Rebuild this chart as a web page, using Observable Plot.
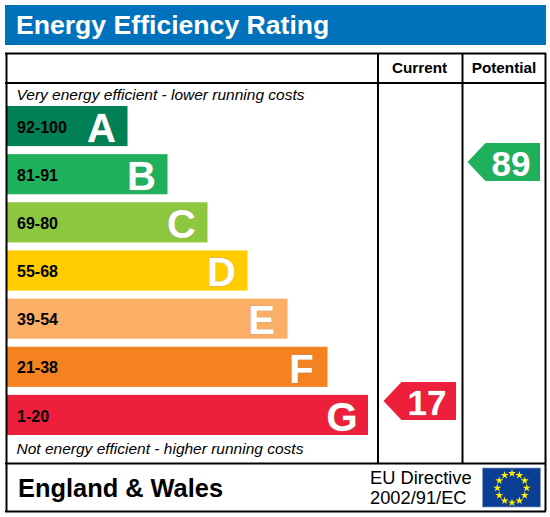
<!DOCTYPE html>
<html>
<head>
<meta charset="utf-8">
<script src="https://cdn.jsdelivr.net/npm/d3@7"></script>
<script src="https://cdn.jsdelivr.net/npm/@observablehq/plot@0.6"></script>
<style>
html,body{margin:0;padding:0;background:#fff}
#title{box-sizing:border-box;position:absolute;left:5px;top:5px;width:541px;height:40px;background:#0072bc;color:#fff;font:bold 26.6px "Liberation Sans",Arial,sans-serif;line-height:41px;padding-left:11px;white-space:nowrap}
#chart{position:absolute;left:0;top:45px}
svg{display:block}
</style>
</head>
<body>
<div id="title">Energy Efficiency Rating</div>
<div id="chart"></div>
<script>
const bandLetters = ["A","B","C","D","E","F","G"];
const bandRanges = ["92-100","81-91","69-80","55-68","39-54","21-38","1-20"];
const bandLengths = [120.5,160.5,200.5,240.5,280.5,320.5,361];
const bandColors = ["#008054","#1eb05a","#8dc63f","#ffcc00","#fbae66","#f58220","#ee1f3b"];
const columns = ["Current","Potential"];
const scores = [17,89];
const scoreColors = ["#ee1f3b","#1eb05a"];
const topNote = "Very energy efficient - lower running costs";
const bottomNote = "Not energy efficient - higher running costs";
const region = "England & Wales";
const directive = ["EU Directive","2002/91/EC"];

const barLeft = 7;
const rowBand = d3.scaleBand().domain(bandLetters).range([106,435]).paddingInner(1/6);
const scoreY = d3.scaleLinear([17,89],[401,162]);
const bars = bandLetters.map((letter,i)=>({
  letter, range:bandRanges[i], color:bandColors[i],
  x2:barLeft+bandLengths[i], y1:rowBand(letter), y2:rowBand(letter)+rowBand.bandwidth()
}));
const colRight = {Current:456, Potential:540};
const arrows = columns.flatMap((c,i)=>{
  const cy = scoreY(scores[i]), r = colRight[c], h = 19;
  return [
    {z:c,color:scoreColors[i],x:r-72.5,y1:cy,y2:cy},
    {z:c,color:scoreColors[i],x:r-54.5,y1:cy-h,y2:cy+h},
    {z:c,color:scoreColors[i],x:r,y1:cy-h,y2:cy+h}
  ];
});
const arrowLabels = columns.map((c,i)=>({c,score:scores[i],x:colRight[c]-10,y:scoreY(scores[i])}));
const flagC = [511.5,487.5];
const stars = d3.range(12).map(i=>({
  x:flagC[0]+14.7*Math.cos(i*Math.PI/6),
  y:flagC[1]+14.7*Math.sin(i*Math.PI/6)
}));
const font = {fontFamily:"Liberation Sans"};

const plot = Plot.plot({
  width:550, height:472,
  marginTop:0, marginRight:0, marginBottom:0, marginLeft:0,
  x:{domain:[0,550],range:[0,550],axis:null},
  y:{domain:[45,517],range:[0,472],axis:null},
  color:{type:"identity"},
  marks:[
    Plot.rect(bars,{x1:barLeft,x2:"x2",y1:"y1",y2:"y2",fill:"color"}),
    Plot.text(bars,{x:16.5,y:d=>(d.y1+d.y2)/2,dy:1,text:"range",textAnchor:"start",fill:"#000",fontSize:16,fontWeight:"bold",...font}),
    Plot.text(bars,{x:d=>d.x2-26.5,y:d=>(d.y1+d.y2)/2,dy:2.5,text:"letter",textAnchor:"middle",fill:"#fff",stroke:"#999",strokeWidth:0.4,fontSize:40,fontWeight:"bold",...font}),
    Plot.area(arrows,{x1:"x",y1:"y1",y2:"y2",z:"z",fill:"color"}),
    Plot.text(arrowLabels,{x:"x",y:"y",dy:2,text:"score",textAnchor:"end",fill:"#fff",stroke:"#999",strokeWidth:0.4,fontSize:35,fontWeight:"bold",...font}),
    Plot.text([topNote],{x:16,y:95,text:d=>d,textAnchor:"start",fontSize:15.5,fontStyle:"italic",fill:"#000",...font}),
    Plot.text([bottomNote],{x:16,y:449,text:d=>d,textAnchor:"start",fontSize:15.5,fontStyle:"italic",fill:"#000",...font}),
    Plot.text(columns,{x:d=>d==="Current"?419:503.5,y:68,text:d=>d,fontSize:15.3,fontWeight:"bold",fill:"#000",...font}),
    Plot.ruleY([53,82.5,463,511],{x1:5,x2:546,stroke:"#000",strokeWidth:2}),
    Plot.ruleX([6,545],{y1:53,y2:511,stroke:"#000",strokeWidth:2}),
    Plot.ruleX([377.5,462],{y1:53,y2:463,stroke:"#000",strokeWidth:2}),
    Plot.text([region],{x:17.5,y:488,dy:0.5,text:d=>d,textAnchor:"start",fontSize:25.4,fontWeight:"bold",fill:"#000",...font}),
    Plot.text(directive,{x:369.5,y:(d,i)=>i===0?478:498,text:d=>d,textAnchor:"start",fontSize:18.3,fill:"#000",...font}),
    Plot.rect([0],{x1:482.5,x2:540.5,y1:468,y2:507,fill:"#0b3e92",stroke:"#7f9bc4",strokeWidth:0.7}),
    Plot.dot(stars,{x:"x",y:"y",symbol:"star",r:2.5,fill:"#ffee00",stroke:"none"})
  ]
});
document.getElementById("chart").appendChild(plot);
</script>
</body>
</html>
